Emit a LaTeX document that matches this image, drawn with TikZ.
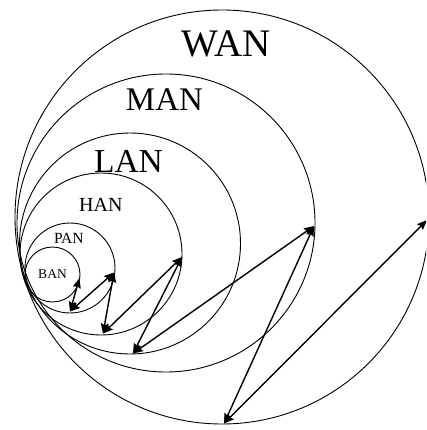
\documentclass[tikz,border=0pt]{standalone}
\usepackage{fontspec}
\setmainfont{Liberation Serif}
\usetikzlibrary{arrows.meta}
\tikzset{
  ring/.style={draw=black, line width=0.9pt, circle, inner sep=0pt},
  lbl/.style={inner sep=0pt, anchor=center},
  tipx/.tip={Stealth[length=10pt,width=8pt,inset=1.5pt]},
  link/.style={line width=1.4pt, tipx-tipx}
}
\begin{document}
\begin{tikzpicture}[x=1pt,y=-1pt]
\clip (0,0) rectangle (426,430);
\fill[white] (0,0) rectangle (426,430);
% circles
\node[ring, minimum size=414pt] (wan) at (222,217) {};
\node[ring, minimum size=298pt] (man) at (166,223) {};
\node[ring, minimum size=221pt] (lan) at (130,243.5) {};
\node[ring, minimum size=162pt] (han) at (101,254) {};
\node[ring, minimum size=90pt] (pan) at (70,268) {};
\node[ring, minimum size=55pt] (ban) at (52.5,274.5) {};
% labels
\node[lbl, font=\fontsize{39}{39}\selectfont] (twan) at (226,43.5) {WAN};
\node[lbl, font=\fontsize{33}{33}\selectfont] (tman) at (164.5,99.5) {MAN};
\node[lbl, font=\fontsize{33.5}{33.5}\selectfont] (tlan) at (128.5,161.5) {LAN};
\node[lbl, font=\fontsize{20}{20}\selectfont] (than) at (100.8,205) {HAN};
\node[lbl, font=\fontsize{15.5}{15.5}\selectfont] (tpan) at (68.8,238.7) {PAN};
\node[lbl, font=\fontsize{13.5}{13.5}\selectfont] (tban) at (52.5,274.5) {BAN};
% arrow end points
\coordinate (p1) at (79.5,278);
\coordinate (p2) at (70,311.5);
\coordinate (p3) at (114,272.5);
\coordinate (p4) at (103,333.5);
\coordinate (p5) at (182,257);
\coordinate (p6) at (133,353.5);
\coordinate (p7) at (314,226);
\coordinate (p8) at (224,423.5);
\coordinate (p9) at (427,220);
% arrows
\draw[link] (p1) -- (p2);
\draw[link] (p2) -- (p3);
\draw[link] (p3) -- (p4);
\draw[link] (p4) -- (p5);
\draw[link] (p5) -- (p6);
\draw[link] (p6) -- (p7);
\draw[link] (p7) -- (p8);
\draw[link] (p8) -- (p9);
\end{tikzpicture}
\end{document}
